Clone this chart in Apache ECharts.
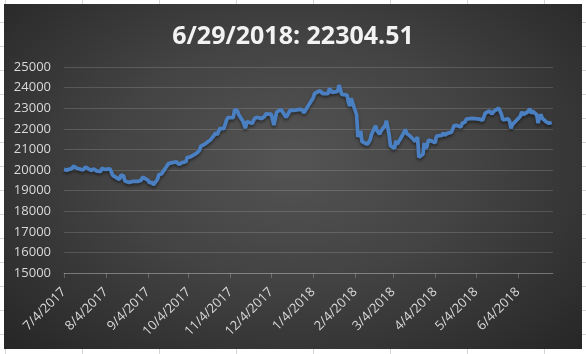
<!DOCTYPE html>
<html>
<head>
<meta charset="utf-8">
<script src="https://cdn.jsdelivr.net/npm/echarts@6/dist/echarts.min.js"></script>
<style>
html,body{margin:0;padding:0;width:586px;height:354px;overflow:hidden;background-color:#fff;}
body{
  background-image:
    linear-gradient(to bottom, #d6d6d6 1px, transparent 1px),
    linear-gradient(to right, #d6d6d6 1px, transparent 1px);
  background-size: 100% 24px, 77px 100%;
  background-position: 0 22px, 5px 0;
}
#panel{position:absolute;left:4px;top:4px;width:578px;height:345px;
  background: radial-gradient(ellipse farthest-corner at 50% 45%, #545454 0%, #434343 45%, #262626 100%);}
#chart{position:absolute;left:0;top:0;width:586px;height:354px;}
</style>
</head>
<body>
<div id="panel"></div>
<div id="chart"></div>
<script>
const titleText = '6/29/2018: 22304.51';
const axisStart = '2017-07-04';
const axisEnd = '2018-06-30';
const tickLabels = ['7/4/2017','8/4/2017','9/4/2017','10/4/2017','11/4/2017','12/4/2017',
  '1/4/2018','2/4/2018','3/4/2018','4/4/2018','5/4/2018','6/4/2018'];
const yMin = 15000, yMax = 25000, yStep = 1000;

const dates = [
 '2017-07-04','2017-07-05','2017-07-06','2017-07-07','2017-07-10','2017-07-11','2017-07-12','2017-07-13','2017-07-14','2017-07-18','2017-07-19','2017-07-20','2017-07-21','2017-07-24','2017-07-25','2017-07-26','2017-07-27','2017-07-28','2017-07-31',
 '2017-08-01','2017-08-02','2017-08-03','2017-08-04','2017-08-07','2017-08-08','2017-08-09','2017-08-10','2017-08-14','2017-08-15','2017-08-16','2017-08-17','2017-08-18','2017-08-21','2017-08-22','2017-08-23','2017-08-24','2017-08-25','2017-08-28','2017-08-29','2017-08-30','2017-08-31',
 '2017-09-01','2017-09-04','2017-09-05','2017-09-06','2017-09-07','2017-09-08','2017-09-11','2017-09-12','2017-09-13','2017-09-14','2017-09-15','2017-09-19','2017-09-20','2017-09-21','2017-09-22','2017-09-25','2017-09-26','2017-09-27','2017-09-28','2017-09-29',
 '2017-10-02','2017-10-03','2017-10-04','2017-10-05','2017-10-06','2017-10-10','2017-10-11','2017-10-12','2017-10-13','2017-10-16','2017-10-17','2017-10-18','2017-10-19','2017-10-20','2017-10-23','2017-10-24','2017-10-25','2017-10-26','2017-10-27','2017-10-30','2017-10-31',
 '2017-11-01','2017-11-02','2017-11-06','2017-11-07','2017-11-08','2017-11-09','2017-11-10','2017-11-13','2017-11-14','2017-11-15','2017-11-16','2017-11-17','2017-11-20','2017-11-21','2017-11-22','2017-11-24','2017-11-27','2017-11-28','2017-11-29','2017-11-30',
 '2017-12-01','2017-12-04','2017-12-05','2017-12-06','2017-12-07','2017-12-08','2017-12-11','2017-12-12','2017-12-13','2017-12-14','2017-12-15','2017-12-18','2017-12-19','2017-12-20','2017-12-21','2017-12-22','2017-12-25','2017-12-26','2017-12-27','2017-12-28',
 '2018-01-04','2018-01-05','2018-01-09','2018-01-10','2018-01-11','2018-01-12','2018-01-15','2018-01-16','2018-01-17','2018-01-18','2018-01-19','2018-01-22','2018-01-23','2018-01-24','2018-01-25','2018-01-26','2018-01-29','2018-01-30','2018-01-31',
 '2018-02-01','2018-02-02','2018-02-05','2018-02-06','2018-02-07','2018-02-08','2018-02-09','2018-02-13','2018-02-14','2018-02-15','2018-02-16','2018-02-19','2018-02-20','2018-02-21','2018-02-22','2018-02-23','2018-02-26','2018-02-27','2018-02-28',
 '2018-03-01','2018-03-02','2018-03-05','2018-03-06','2018-03-07','2018-03-08','2018-03-09','2018-03-12','2018-03-13','2018-03-14','2018-03-15','2018-03-16','2018-03-19','2018-03-20','2018-03-22','2018-03-23','2018-03-26','2018-03-27','2018-03-28','2018-03-29','2018-03-30',
 '2018-04-02','2018-04-03','2018-04-04','2018-04-05','2018-04-06','2018-04-09','2018-04-10','2018-04-11','2018-04-12','2018-04-13','2018-04-16','2018-04-17','2018-04-18','2018-04-19','2018-04-20','2018-04-23','2018-04-24','2018-04-25','2018-04-26','2018-04-27',
 '2018-05-01','2018-05-02','2018-05-07','2018-05-08','2018-05-09','2018-05-10','2018-05-11','2018-05-14','2018-05-15','2018-05-16','2018-05-17','2018-05-18','2018-05-21','2018-05-22','2018-05-23','2018-05-24','2018-05-25','2018-05-28','2018-05-29','2018-05-30','2018-05-31',
 '2018-06-01','2018-06-04','2018-06-05','2018-06-06','2018-06-07','2018-06-08','2018-06-11','2018-06-12','2018-06-13','2018-06-14','2018-06-15','2018-06-18','2018-06-19','2018-06-20','2018-06-21','2018-06-22','2018-06-25','2018-06-26','2018-06-27','2018-06-28','2018-06-29'
];

const values = [
 20032,20081,19994,19929,20080,20195,20098,20099,20118,19999,20020,20144,20099,19975,19955,20050,20079,19959,19925,
 20080,20080,20029,19952,20055,19996,19738,19729,19537,19753,19729,19702,19470,19393,19383,19434,19353,19452,19449,19362,19506,19646,
 19691,19508,19385,19357,19396,19274,19545,19776,19865,19807,19910,20299,20310,20347,20296,20397,20330,20267,20363,20356,
 20400,20614,20626,20628,20691,20823,20881,20954,21155,21255,21336,21363,21448,21457,21697,21805,21707,21739,22008,22011,22011,
 22420,22539,22548,22937,22913,22869,22681,22380,22381,22028,22351,22397,22261,22416,22523,22550,22495,22486,22597,22724,
 22819,22707,22622,22177,22498,22811,22938,22866,22758,22694,22553,22901,22868,22891,22866,22902,22939,22892,22911,22765,
 23506,23714,23849,23788,23710,23653,23714,23951,23868,23763,23808,23816,24124,23940,23669,23631,23629,23291,23098,
 23486,23274,22682,21610,21645,21890,21383,21244,21154,21464,21720,22149,21925,21970,21736,21892,22153,22389,22068,
 21724,21181,21042,21417,21252,21368,21469,21824,21968,21777,21803,21676,21480,21380,21591,20617,20766,21317,21031,21159,21454,
 21388,21292,21319,21645,21567,21678,21794,21687,21660,21778,21835,21847,22158,22191,22162,22088,22278,22215,22319,22467,
 22508,22473,22467,22509,22409,22497,22758,22866,22818,22717,22838,22930,23002,22960,22689,22437,22450,22481,22358,22018,22201,
 22171,22475,22539,22625,22823,22694,22804,22878,22966,22738,22851,22680,22278,22555,22693,22516,22338,22342,22271,22270,22304.51
];

function isoDay(s){ const p=s.split('-').map(Number); return Date.UTC(p[0],p[1]-1,p[2]); }
function mdyDay(s){ const p=s.split('/').map(Number); return Date.UTC(p[2],p[0]-1,p[1]); }
const origin = isoDay(axisStart);
const DAY = 86400000;
const toIdx = t => Math.round((t - origin)/DAY);

const seriesData = dates.map((d,i)=>[toIdx(isoDay(d)), values[i]]);
const tickDays = tickLabels.map(l=>toIdx(mdyDay(l)));
const labelMap = {};
tickDays.forEach((d,i)=>{ labelMap[d]=tickLabels[i]; });

const chart = echarts.init(document.getElementById('chart'), null, {renderer:'canvas'});
chart.setOption({
  animation:false,
  backgroundColor:'transparent',
  textStyle:{fontFamily:'"Open Sans", sans-serif'},
  graphic:[{
    type:'text', x:293, y:37, silent:true,
    style:{
      text:titleText, fill:'#f2f2f2', font:'bold 25px "Open Sans", sans-serif',
      textAlign:'center', textVerticalAlign:'middle',
      shadowColor:'rgba(0,0,0,0.7)', shadowBlur:3, shadowOffsetX:1, shadowOffsetY:2
    }
  }],
  grid:{left:64, right:33, top:67, bottom:81, containLabel:false},
  xAxis:{
    type:'value', min:0, max:toIdx(isoDay(axisEnd)),
    axisLine:{show:true, lineStyle:{color:'rgba(255,255,255,0.22)', width:1}},
    axisTick:{show:true, customValues:tickDays, length:5, lineStyle:{color:'rgba(255,255,255,0.22)'}},
    axisLabel:{customValues:tickDays, rotate:45, margin:17, color:'#d9d9d9', fontSize:13,
      fontFamily:'"Open Sans", sans-serif', formatter:v=>labelMap[v]||''},
    splitLine:{show:false}
  },
  yAxis:{
    type:'value', min:yMin, max:yMax, interval:yStep,
    axisLine:{show:false}, axisTick:{show:false},
    axisLabel:{color:'#d9d9d9', fontSize:13, margin:13, fontFamily:'"Open Sans", sans-serif',
      formatter:v=>String(v)},
    splitLine:{show:true, lineStyle:{color:'rgba(255,255,255,0.15)', width:1}}
  },
  series:[{
    type:'line', data:seriesData, showSymbol:false, smooth:false,
    lineStyle:{color:'#4a7fc1', width:3.8, shadowColor:'rgba(0,0,0,0.45)', shadowBlur:3, shadowOffsetY:2},
    itemStyle:{color:'#4a7fc1'}
  }]
});
</script>
</body>
</html>
